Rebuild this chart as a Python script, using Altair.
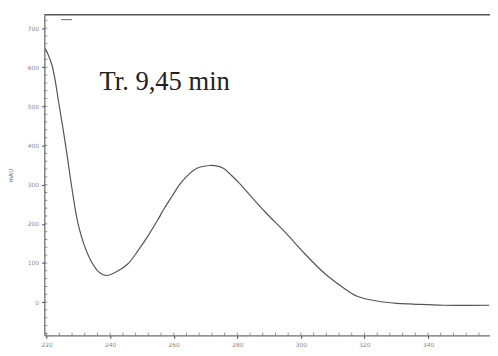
import altair as alt
import pandas as pd

wavelength = [219.6, 221.7, 223.9, 226.1, 227.9, 230.1, 233.2, 236.3, 238.8, 242.5,
              245.6, 248.7, 251.8, 254.9, 257.0, 259.5, 262.0, 264.8, 267.3, 271.3,
              273.4, 275.6, 278.1, 280.6, 284.3, 288.9, 295.1, 301.3, 307.5, 312.8,
              317.7, 323.9, 330.1, 335.4, 344.8, 359.3]
absorbance = [648, 605, 505, 394, 294, 193, 118, 78, 68, 80,
              98, 131, 168, 209, 239, 271, 302, 327, 342, 349,
              348, 342, 324, 304, 270, 229, 178, 123, 73, 40,
              15, 3, -3, -5, -8, -8]

x_major = [220, 240, 260, 280, 300, 320, 340]
x_minor = list(range(220, 360, 4))
y_major = [0, 100, 200, 300, 400, 500, 600, 700]
y_minor = list(range(-80, 740, 20))

df = pd.DataFrame({"nm": wavelength, "mAU": absorbance})

W, H = 453, 326
xs = alt.Scale(domain=[219.3, 359.5], nice=False, zero=False)
ys = alt.Scale(domain=[-85, 734], nice=False, zero=False)

lab_font = "DejaVu Sans"

line = alt.Chart(df).mark_line(color="#555555", strokeWidth=1.2, interpolate="catmull-rom").encode(
    x=alt.X("nm:Q", scale=xs, title=None,
            axis=alt.Axis(values=x_major, labelFontSize=6, labelColor="#888888", labelFont=lab_font,
                          tickSize=3, tickColor="#555555", domainColor="#444444", grid=False,
                          labelPadding=3, labelFlush=False)),
    y=alt.Y("mAU:Q", scale=ys, title="mAU",
            axis=alt.Axis(values=y_major, labelFontSize=6, labelColor="#888888", labelFont=lab_font,
                          tickSize=3, tickColor="#555555", domainColor="#444444", grid=False,
                          labelPadding=3, titleFontSize=6, titleColor="#666666",
                          titleFont=lab_font, titlePadding=14, titleFontWeight="normal")),
)

minor = alt.Chart(pd.DataFrame({"v": x_minor})).mark_tick(
    color="#666666", orient="vertical", thickness=1, size=3).encode(
    x=alt.X("v:Q", scale=xs), y=alt.value(H - 1.5))

minor_y = alt.Chart(pd.DataFrame({"v": y_minor})).mark_tick(
    color="#666666", orient="horizontal", thickness=1, size=3).encode(
    y=alt.Y("v:Q", scale=ys), x=alt.value(1.5))

top = alt.Chart(pd.DataFrame({"t": [734]})).mark_rule(color="#555555", strokeWidth=1.5).encode(
    y=alt.Y("t:Q", scale=ys))

legend_line = alt.Chart(pd.DataFrame({"a": [0]})).mark_rule(color="#666666", strokeWidth=1).encode(
    x=alt.value(17), x2=alt.value(28), y=alt.value(5))

label = alt.Chart(pd.DataFrame({"txt": ["Tr. 9,45 min"]})).mark_text(
    font="Liberation Serif", fontSize=27, color="#222222", align="left", baseline="alphabetic").encode(
    text="txt:N", x=alt.value(56), y=alt.value(76))

chart = alt.layer(line, minor, minor_y, top, legend_line, label).properties(
    width=W, height=H,
    autosize=alt.AutoSizeParams(type="none"),
    padding={"left": 37, "top": 4, "right": 0, "bottom": 14},
).configure_view(stroke=None).configure_axis(labelAngle=0)

chart.save("out.html", embed_options={"renderer": "svg", "actions": False})
